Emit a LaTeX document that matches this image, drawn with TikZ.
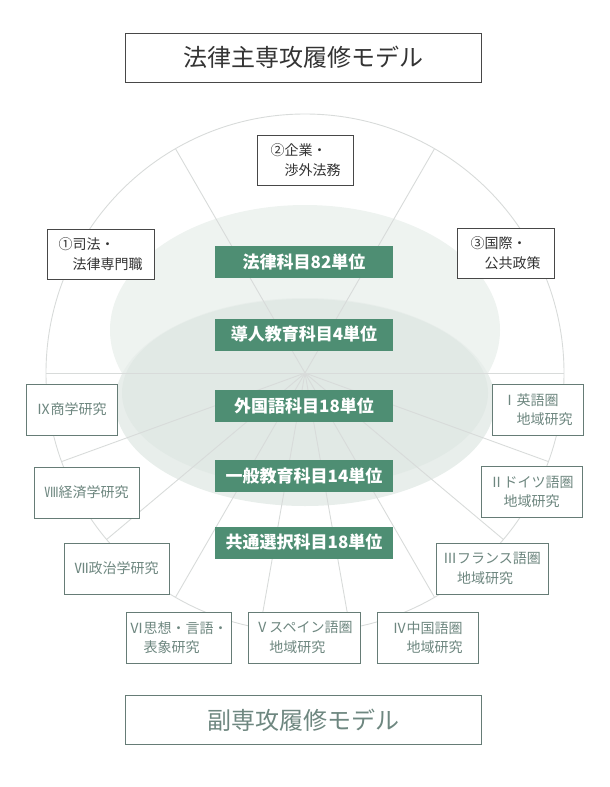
\documentclass[tikz,border=0pt]{standalone}
\usepackage{fontspec}
\setmainfont{Noto Sans CJK JP}
\newfontfamily\romanfont[RawFeature=+palt]{Noto Sans CJK JP}
\newcommand{\rnum}[1]{{\romanfont #1}}

\definecolor{credit}{HTML}{4E8E73}
\definecolor{wheelline}{HTML}{D8DBDA}
\definecolor{upperfill}{HTML}{EEF3F0}
\definecolor{rimfill}{HTML}{E8EEEB}
\definecolor{lowerfill}{HTML}{E1E9E5}
\definecolor{minorline}{HTML}{667C76}
\definecolor{minortext}{HTML}{6E8780}

\tikzset{
  wheel/.style={draw=wheelline, line width=0.9},
  creditbox/.style={fill=credit, text=white, inner sep=0,
    minimum width=178, minimum height=32,
    font=\fontsize{17}{20}\selectfont\bfseries},
  track/.style={draw=black!72, fill=white, text=black!80, line width=1,
    inner sep=0, align=left, minimum width=#1, minimum height=50,
    font=\fontsize{14}{20}\selectfont},
  minor/.style={draw=minorline, fill=white, text=minortext, line width=1,
    inner sep=0, align=left, minimum width=#1, minimum height=51,
    font=\fontsize{14}{19.5}\selectfont},
  modelbox/.style={line width=1, inner sep=0, minimum width=356,
    minimum height=49, font=\fontsize{24}{28}\selectfont}
}

\begin{document}
\begin{tikzpicture}[x=1pt,y=-1pt]
      \useasboundingbox (0,0) rectangle (610,787);
      % shaded discs
      \fill[upperfill] (305,330) ellipse [x radius=195, y radius=125];
      \fill[rimfill] (305,402) ellipse [x radius=190, y radius=104];
      \fill[lowerfill] (305,393) ellipse [x radius=183, y radius=94];
      % wheel
      \coordinate (c) at (305,373);
      \draw[wheel] (c) circle [radius=259];
      \begin{scope}[shift={(305,373)}]
        \path
          (0:259) coordinate (e0)
          (20:259) coordinate (e20)
          (40:259) coordinate (e40)
          (60:259) coordinate (e60)
          (80:259) coordinate (e80)
          (100:259) coordinate (e100)
          (120:259) coordinate (e120)
          (140:259) coordinate (e140)
          (160:259) coordinate (e160)
          (180:259) coordinate (e180)
          (240:259) coordinate (e240)
          (300:259) coordinate (e300);
      \end{scope}
      \begin{scope}[wheel]
        \draw (e180) to (e0);
        \draw (c) to (e240);
        \draw (c) to (e300);
        \draw (c) to (e20);
        \draw (c) to (e40);
        \draw (c) to (e60);
        \draw (c) to (e80);
        \draw (c) to (e100);
        \draw (c) to (e120);
        \draw (c) to (e140);
        \draw (c) to (e160);
      \end{scope}
      % credits
      \node[creditbox] (law) at (304,262) {法律科目82単位};
      \node[creditbox] (intro) at (304,334.5) {導人教育科目4単位};
      \node[creditbox] (lang) at (304,406) {外国語科目18単位};
      \node[creditbox] (general) at (304,476) {一般教育科目14単位};
      \node[creditbox] (common) at (304,542.5) {共通選択科目18単位};
      % major tracks
      \node[track=107] (judicial) at (100.5,254) {①司法・\\\phantom{①}法律専門職};
      \node[track=96] (business) at (305.5,160) {②企業・\\\phantom{②}渉外法務};
      \node[track=97] (public) at (505.5,253.5) {③国際・\\\phantom{③}公共政策};
      % minor tracks
      \node[minor=91] (english) at (537.5,409.5) {\rnum{Ⅰ}英語圏\\\phantom{\rnum{Ⅰ}}地域研究};
      \node[minor=101] (german) at (531.5,492) {\rnum{Ⅱ}ドイツ語圏\\\phantom{\rnum{Ⅱ}}地域研究};
      \node[minor=112] (french) at (492,568.5) {\rnum{Ⅲ}フランス語圏\\\phantom{\rnum{Ⅲ}}地域研究};
      \node[minor=101] (chinese) at (427.5,637.5) {\rnum{Ⅳ}中国語圏\\\phantom{\rnum{Ⅳ}}地域研究};
      \node[minor=112] (spanish) at (304,637.5) {\rnum{Ⅴ}スペイン語圏\\\phantom{\rnum{Ⅴ}}地域研究};
      \node[minor=105] (thought) at (178.5,637.5) {\rnum{Ⅵ}思想・言語・\\\phantom{\rnum{Ⅵ}}表象研究};
      \node[minor=105] (politics) at (116.5,568.5) {\rnum{Ⅶ}政治学研究};
      \node[minor=105] (economics) at (86.5,492.5) {\rnum{Ⅷ}経済学研究};
      \node[minor=91] (commerce) at (71.5,409.5) {\rnum{Ⅸ}商学研究};
      % titles
      \node[modelbox, draw=black!72, text=black!80] (major) at (303.5,57.5) {法律主専攻履修モデル};
      \node[modelbox, draw=minorline, text=minortext] (minormodel) at (303.5,720) {副専攻履修モデル};
\end{tikzpicture}
\end{document}
